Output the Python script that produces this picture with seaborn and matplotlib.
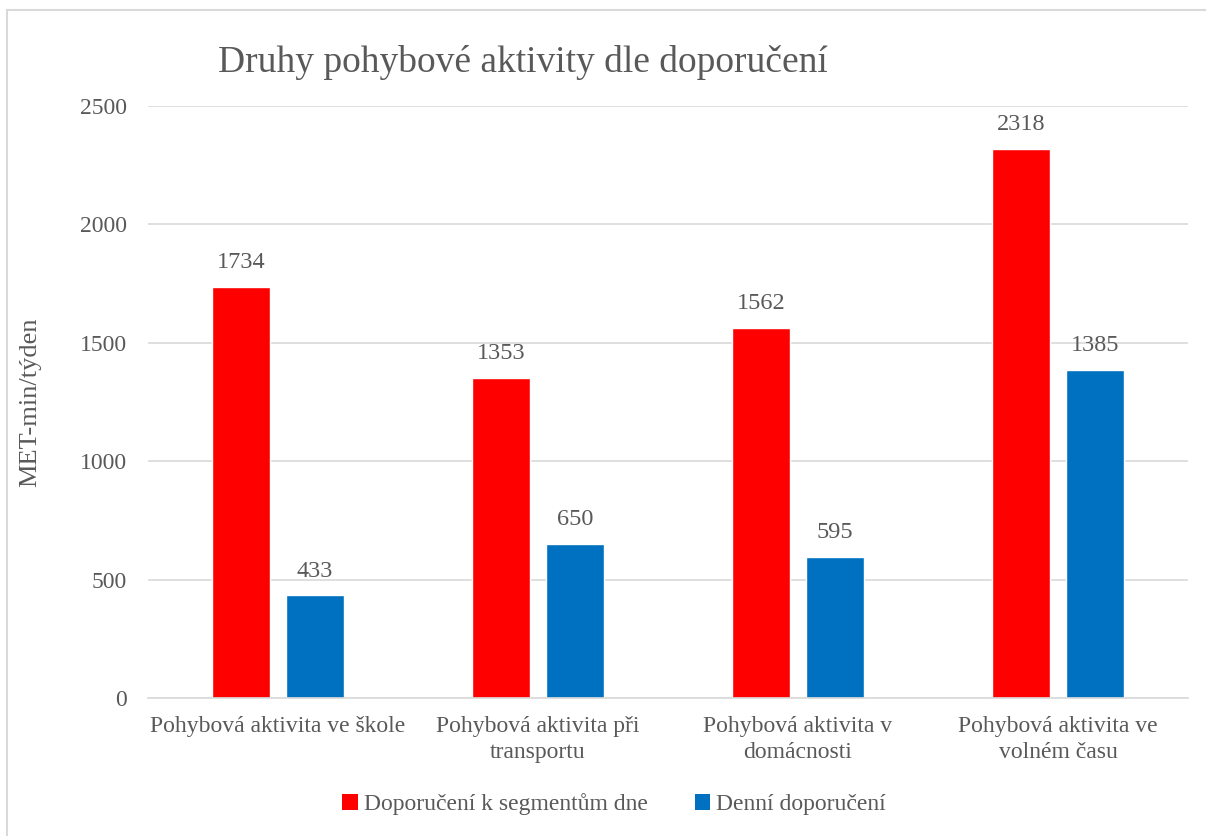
import matplotlib
matplotlib.use("Agg")
import matplotlib.pyplot as plt
import seaborn as sns
import pandas as pd
from matplotlib.lines import Line2D
from matplotlib.patches import Patch

categories = ["Pohybová aktivita ve škole", "Pohybová aktivita při\ntransportu",
              "Pohybová aktivita v\ndomácnosti", "Pohybová aktivita ve\nvolném času"]
series_names = ["Doporučení k segmentům dne", "Denní doporučení"]
segment_values = [1734, 1353, 1562, 2318]
daily_values = [433, 650, 595, 1385]
y_ticks = [0, 500, 1000, 1500, 2000, 2500]

colors = ["#FF0000", "#0070C0"]
txt = "#595959"

df = pd.DataFrame({
    "cat": categories * 2,
    "series": [series_names[0]] * 4 + [series_names[1]] * 4,
    "val": segment_values + daily_values,
})

sns.set_theme(style="white")
plt.rcParams["font.family"] = ["Liberation Serif", "DejaVu Serif"]

W, H = 1206, 836
fig = plt.figure(figsize=(W / 100, H / 100), dpi=100)
ax = fig.add_axes([148 / W, 1 - 698 / H, 1040 / W, 592 / H])

sns.barplot(data=df, x="cat", y="val", hue="series", palette=colors,
            width=0.569, gap=0.216, ax=ax, legend=False, saturation=1)

ax.set_ylim(0, 2500)
ax.set_xlim(-0.5, 3.5)
ax.set_yticks(y_ticks)
ax.set_yticklabels([str(t) for t in y_ticks], fontsize=17, color=txt)
ax.tick_params(axis="x", labelsize=17, colors=txt, length=0, pad=13)
ax.tick_params(axis="y", length=0, pad=15)
for lab in ax.get_xticklabels():
    lab.set_color(txt)
    lab.set_linespacing(1.3)
ax.yaxis.grid(True, color="#d9d9d9", linewidth=1.2)
ax.set_axisbelow(True)
for s in ["top", "right", "left"]:
    ax.spines[s].set_visible(False)
ax.spines["bottom"].set_color("#d9d9d9")
ax.spines["bottom"].set_linewidth(1.2)
ax.set_xlabel("")
ax.set_ylabel("MET-min/týden", fontsize=19, color=txt)
ax.yaxis.set_label_coords(-(148 - 41) / 1040, 0.5)

for cont in ax.containers:
    ax.bar_label(cont, labels=[f"{int(v)}" for v in cont.datavalues],
                 padding=10, fontsize=17.5, color=txt)

fig.text(218 / W, 1 - 62 / H, "Druhy pohybové aktivity dle doporučení",
         fontsize=27, color=txt, ha="left", va="center")

handles = [Patch(facecolor=c, edgecolor="none") for c in colors]
fig.legend(handles, series_names, loc="center", bbox_to_anchor=(614 / W, 1 - 804 / H),
           ncol=2, frameon=False, fontsize=17, handlelength=0.65, handleheight=0.65,
           handletextpad=0.25, columnspacing=2.0, labelcolor=txt)

# chart frame (left and top edges)
fig.add_artist(Line2D([7 / W, 7 / W], [0, 1 - 10 / H], transform=fig.transFigure,
                      color="#d9d9d9", linewidth=1.5))
fig.add_artist(Line2D([7 / W, 1], [1 - 10 / H, 1 - 10 / H], transform=fig.transFigure,
                      color="#d9d9d9", linewidth=1.5))

fig.savefig("out.png", dpi=100)
